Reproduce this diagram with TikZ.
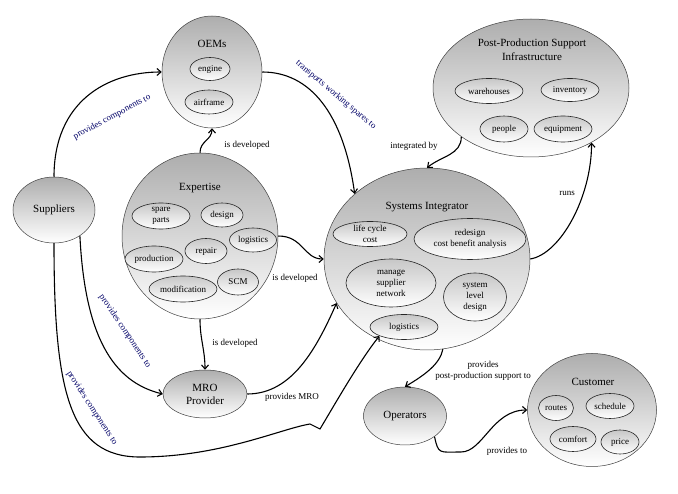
\documentclass[tikz,border=0pt]{standalone}
\usepackage{fontspec}
\setmainfont{Liberation Serif}
\usetikzlibrary{arrows.meta,shapes.geometric}

\begin{document}
\begin{tikzpicture}[x=1pt,y=-1pt,->,>={Straight Barb[length=4pt,width=7pt]},line width=1.1pt,
  big node/.style={ellipse,draw=black!75,line width=0.5pt,top color=black!32,bottom color=white,inner sep=0pt,font=\fontsize{11}{13}\selectfont,align=center},
  sub node/.style={ellipse,draw=black!85,line width=0.6pt,top color=black!22,bottom color=white,inner sep=0pt,font=\fontsize{9}{11}\selectfont,align=center},
  title node/.style={font=\fontsize{11}{14}\selectfont,align=center,inner sep=0pt},
  edge label/.style={font=\fontsize{9}{11}\selectfont,align=center,inner sep=0pt},
  rel label/.style={edge label,text=blue!40!black}]
\useasboundingbox (0,0) rectangle (678,494);

% main actors
\node[big node,minimum width=100pt,minimum height=112pt] (oem) at (212,72) {};
\node[title node] (oemt) at (212,44) {OEMs};
\node[sub node,minimum width=40pt,minimum height=23pt] (engine) at (210,69) {engine};
\node[sub node,minimum width=48pt,minimum height=24pt] (airframe) at (209,102) {airframe};

\node[big node,minimum width=196pt,minimum height=138pt] (ppsi) at (531,88) {};
\node[title node] (ppsit) at (532,50) {Post-Production Support\\Infrastructure};
\node[sub node,minimum width=68pt,minimum height=25pt] (wareh) at (489,91) {warehouses};
\node[sub node,minimum width=58pt,minimum height=23pt] (invent) at (570,90) {inventory};
\node[sub node,minimum width=48pt,minimum height=26pt] (people) at (504,129) {people};
\node[sub node,minimum width=58pt,minimum height=26pt] (equip) at (563,129) {equipment};

\node[big node,minimum width=82pt,minimum height=66pt] (sup) at (54,210) {Suppliers};

\node[big node,minimum width=156pt,minimum height=166pt] (exp) at (200,236) {};
\node[title node] (expt) at (200,188) {Expertise};
\node[sub node,minimum width=58pt,minimum height=26pt] (spare) at (161,216) {spare\\parts};
\node[sub node,minimum width=42pt,minimum height=24pt] (design) at (222,215) {design};
\node[sub node,minimum width=47pt,minimum height=24pt] (explog) at (253,240) {logistics};
\node[sub node,minimum width=42pt,minimum height=25pt] (repair) at (206,251) {repair};
\node[sub node,minimum width=58pt,minimum height=26pt] (prod) at (154,259) {production};
\node[sub node,minimum width=68pt,minimum height=26pt] (modif) at (183,289) {modification};
\node[sub node,minimum width=41pt,minimum height=26pt] (scm) at (238,282) {SCM};

\node[big node,minimum width=206pt,minimum height=182pt] (si) at (427,259) {};
\node[title node] (sit) at (427,207) {Systems Integrator};
\node[sub node,minimum width=74pt,minimum height=25pt] (lcc) at (370,234) {life cycle\\cost};
\node[sub node,minimum width=112pt,minimum height=41pt] (redes) at (470,239) {redesign\\cost benefit analysis};
\node[sub node,minimum width=90pt,minimum height=48pt] (msn) at (391,283) {manage\\supplier\\network};
\node[sub node,minimum width=63pt,minimum height=48pt] (sld) at (475,297) {system\\level\\design};
\node[sub node,minimum width=68pt,minimum height=25pt] (silog) at (404,327) {logistics};

\node[big node,minimum width=84pt,minimum height=48pt] (mro) at (205,394) {MRO\\Provider};
\node[big node,minimum width=83pt,minimum height=58pt] (op) at (405,416) {Operators};

\node[big node,minimum width=129pt,minimum height=113pt] (cus) at (592,410) {};
\node[title node] (cust) at (593,382) {Customer};
\node[sub node,minimum width=35pt,minimum height=25pt] (routes) at (556,408) {routes};
\node[sub node,minimum width=48pt,minimum height=25pt] (sched) at (610,406) {schedule};
\node[sub node,minimum width=46pt,minimum height=25pt] (comfort) at (573,439) {comfort};
\node[sub node,minimum width=38pt,minimum height=24pt] (price) at (620,442) {price};

% free points of the long connectors
\coordinate (dip) at (140,457);
\coordinate (kink) at (320,429);
\coordinate (dip2) at (461,452);

% connectors
\draw (sup.north) .. controls +(0,-75) and +(-55,0) .. (oem.west);
\draw (oem.east) .. controls +(48,0) and +(-11,-80) .. (si.138);
\draw (exp.north) .. controls +(0,-12) and +(0,12) .. (oem.south);
\draw (exp.east) .. controls +(25,0) and +(-20,0) .. (si.west);
\draw (exp.south) .. controls +(0,20) and +(0,-20) .. (mro.north);
\draw (sup.-45) .. controls +(5,100) and +(-50,-12) .. (mro.west);
\draw (sup.south) .. controls +(0,150) and +(-70,0) .. (dip)
  .. controls +(80,0) and +(-30,5) .. (310,424) -- (kink)
  .. controls +(15,-25) and +(-20,25) .. (silog.-160);
\draw (mro.east) .. controls +(45,0) and +(-20,45) .. (si.206);
\draw (ppsi.215) .. controls +(0,18) and +(15,-12) .. (si.north);
\draw (si.east) .. controls +(30,-5) and +(0,55) .. (ppsi.-42);
\draw (si.-80) .. controls +(-3,15) and +(20,-12) .. (op.north);
\draw (op.-35) .. controls +(4,18) and +(-22,0) .. (dip2)
  .. controls +(22,0) and +(-35,0) .. (cus.west);

% connector labels
\node[rel label,rotate=28] (l1) at (112,117) {provides components to};
\node[rel label,rotate=-40] (l2) at (336,95) {transports working spares to};
\node[edge label] (l3) at (247,145) {is developed};
\node[edge label] (l4) at (295,278) {is developed};
\node[edge label] (l5) at (235,343) {is developed};
\node[rel label,rotate=-56] (l6) at (125,331) {provides components to};
\node[rel label,rotate=-57] (l7) at (92,408) {provides components to};
\node[edge label] (l8) at (292,397) {provides MRO};
\node[edge label] (l9) at (414,146) {integrated by};
\node[edge label] (l10) at (567,193) {runs};
\node[edge label] (l11) at (483,371) {provides\\post-production support to};
\node[edge label] (l12) at (507,451) {provides to};
\end{tikzpicture}
\end{document}
